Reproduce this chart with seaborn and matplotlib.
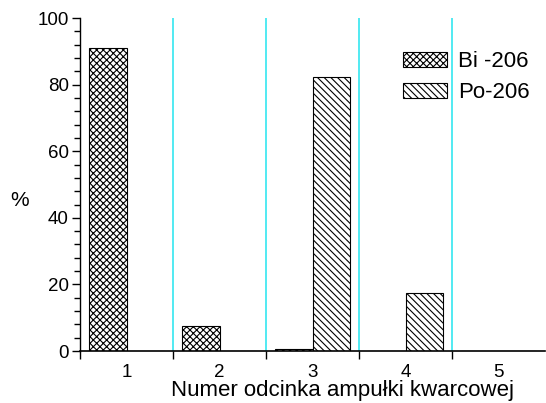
import matplotlib
matplotlib.use("Agg")
import matplotlib.pyplot as plt
import seaborn as sns
import pandas as pd
from matplotlib.ticker import MultipleLocator, FixedLocator

categories = ["1", "2", "3", "4", "5"]
bi206 = [91.0, 7.5, 0.7, 0.1, 0.0]
po206 = [0.0, 0.0, 82.3, 17.5, 0.0]
series_names = ["Bi -206", "Po-206"]
yticks = [0, 20, 40, 60, 80, 100]

sns.set_style("ticks")
plt.rcParams["font.family"] = ["Liberation Sans", "DejaVu Sans"]
plt.rcParams["hatch.linewidth"] = 0.8
for k in ["text.color", "axes.labelcolor", "xtick.color", "ytick.color", "axes.edgecolor"]:
    plt.rcParams[k] = "black"

df = pd.DataFrame({
    "cat": categories * 2,
    "val": bi206 + po206,
    "series": [series_names[0]] * len(categories) + [series_names[1]] * len(categories),
})

fig = plt.figure(figsize=(5.46, 4.03), dpi=100)
ax = fig.add_axes([0.1465, 0.129, 0.852, 0.826])

sns.barplot(data=df, x="cat", y="val", hue="series", palette=["white", "white"],
            edgecolor="black", linewidth=0.8, width=0.8, ax=ax, legend=True)

hatches = {series_names[0]: "xxxxx", series_names[1]: "\\\\\\\\\\"}
for cont, name in zip(ax.containers, series_names):
    for bar in cont:
        bar.set_hatch(hatches[name])
        bar.set_edgecolor("black")

for x in [0.5, 1.5, 2.5, 3.5]:
    ax.plot([x, x], [0, 100], color="#33e6f0", lw=1.2, zorder=0)

ax.set_xlim(-0.5, 4.5)
ax.set_ylim(0, 100)
ax.set_yticks(yticks)
ax.yaxis.set_minor_locator(MultipleLocator(4))
ax.tick_params(axis="y", which="major", length=6, width=1, labelsize=13.5, direction="out", pad=2)
ax.tick_params(axis="y", which="minor", length=4, width=1, direction="out")
ax.set_xticks(range(len(categories)))
ax.set_xticklabels(categories)
ax.tick_params(axis="x", which="major", length=0, labelsize=13.5, pad=9)
ax.xaxis.set_minor_locator(FixedLocator([-0.5, 0.5, 1.5, 2.5, 3.5]))
ax.tick_params(axis="x", which="minor", length=6, width=1, direction="out")

for s in ["top", "right"]:
    ax.spines[s].set_visible(False)
ax.spines["left"].set_linewidth(1)
ax.spines["bottom"].set_linewidth(1.2)

ax.set_ylabel("")
fig.text(20 / 546, 1 - 200 / 403, "%", fontsize=15, ha="center", va="center")
ax.set_xlabel("Numer odcinka ampułki kwarcowej", fontsize=16)
ax.xaxis.set_label_coords(0.565, -0.088)

handles, labels = ax.get_legend_handles_labels()
for h, name in zip(handles, series_names):
    h.set_hatch(hatches[name])
    h.set_edgecolor("black")
leg = ax.legend(handles, labels, frameon=False, fontsize=16, loc="upper left",
                bbox_to_anchor=(0.66, 0.947), handlelength=2.0, handleheight=0.7,
                handletextpad=0.5, labelspacing=0.45, title=None, borderpad=0.2)

fig.savefig("out.png", dpi=100)
